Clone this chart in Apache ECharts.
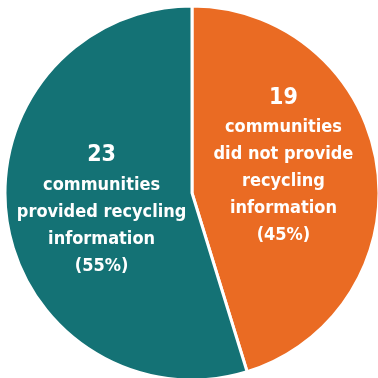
<!DOCTYPE html>
<html>
<head>
<meta charset="utf-8">
<script src="https://cdn.jsdelivr.net/npm/echarts@6/dist/echarts.min.js"></script>
<style>
  html, body { margin: 0; padding: 0; background: #ffffff; }
  #chart { width: 378px; height: 378px; }
</style>
</head>
<body>
<div id="chart"></div>
<script>
// Survey result: communities that did / did not provide recycling information
const categories = ['did not provide\nrecycling\ninformation', 'provided recycling\ninformation'];
const counts = [19, 23];
const percents = [45, 55];
const colors = ['#EA6B23', '#147275'];
const labelShiftX = [-4, 5];
const labelShiftY = [-13, 2];

const chart = echarts.init(document.getElementById('chart'));
const FONT = '"DejaVu Sans Condensed", "Liberation Sans Narrow", sans-serif';

const data = categories.map((name, i) => ({
  name: name,
  value: counts[i],
  itemStyle: { color: colors[i] },
  label: {
    formatter: '{num|' + counts[i] + '}\n{txt|communities}\n' +
      name.split('\n').map(s => '{txt|' + s + '}').join('\n') +
      '\n{txt|(' + percents[i] + '%)}'
  }
}));

chart.setOption({
  animation: false,
  series: [{
    type: 'pie',
    center: [192, 193],
    radius: [0, 187],
    startAngle: 90,
    clockwise: true,
    itemStyle: { borderColor: '#ffffff', borderWidth: 3 },
    label: {
      show: true,
      position: 'inside',
      color: '#ffffff',
      align: 'center',
      fontFamily: FONT,
      rich: {
        num: { fontSize: 23, fontWeight: 'bold', color: '#ffffff', lineHeight: 32, fontFamily: FONT },
        txt: { fontSize: 18, fontWeight: 'bold', color: '#ffffff', lineHeight: 27, fontFamily: FONT }
      }
    },
    labelLayout: function (params) {
      return { dx: labelShiftX[params.dataIndex], dy: labelShiftY[params.dataIndex] };
    },
    labelLine: { show: false },
    emphasis: { disabled: true },
    data: data
  }]
});
</script>
</body>
</html>
